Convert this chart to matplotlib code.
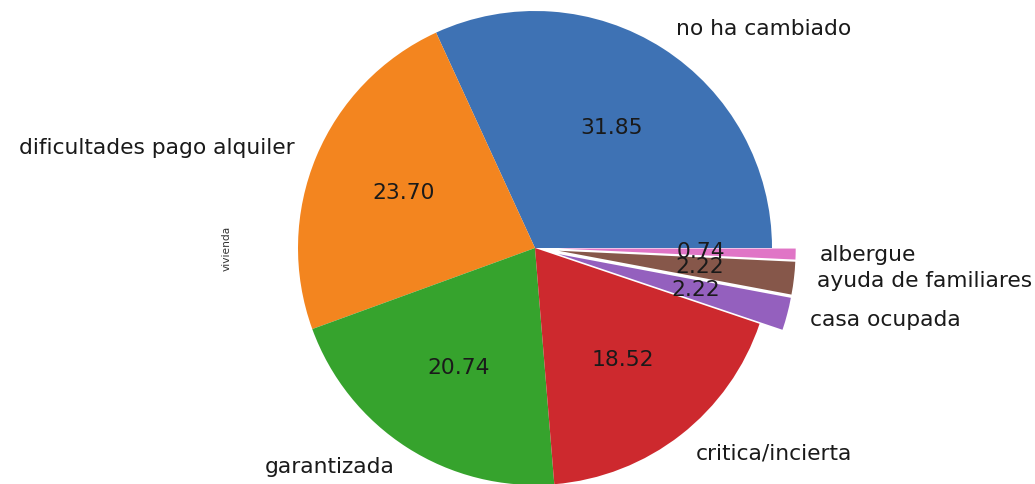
import numpy as np
import matplotlib.pyplot as plt

# =========================================================
# 数据
# =========================================================

labels = ["no ha cambiado", "dificultades pago alquiler", "garantizada",
          "critica/incierta", "casa ocupada", "ayuda de familiares", "albergue"]
values = [31.85, 23.70, 20.74, 18.52, 2.22, 2.22, 0.74]
explode = [0, 0, 0, 0, 0.1, 0.1, 0.1]
colors = ["#3e72b4", "#f3851f", "#36a32d", "#cd292e", "#9460be", "#86574a", "#e075c6"]

# =========================================================
# 绘图
# =========================================================

W, H = 1035, 484
R = 237            # pie radius in pixels
CX, CY = 535, 248  # pie center, pixels from top-left

fig = plt.figure(figsize=(W / 100, H / 100), dpi=100)
ax_left, ax_right = 236, 834
ax = fig.add_axes([ax_left / W, 0, (ax_right - ax_left) / W, 1])

ax.pie(
    values,
    labels=labels,
    explode=explode,
    colors=colors,
    autopct="%.2f",
    startangle=0,
    counterclock=True,
    textprops={"fontsize": 15.7, "color": "#1a1a1a"},
)

ax.set_xlim((ax_left - CX) / R, (ax_right - CX) / R)
ax.set_ylim(-(H - CY) / R, CY / R)
ax.set_aspect("auto")
ax.set_frame_on(False)
ax.set_xticks([])
ax.set_yticks([])
ax.set_ylabel("vivienda", fontsize=7.7, color="#333333")
ax.yaxis.set_label_coords(-0.008, 0.486)

fig.savefig("out.png", dpi=100)
